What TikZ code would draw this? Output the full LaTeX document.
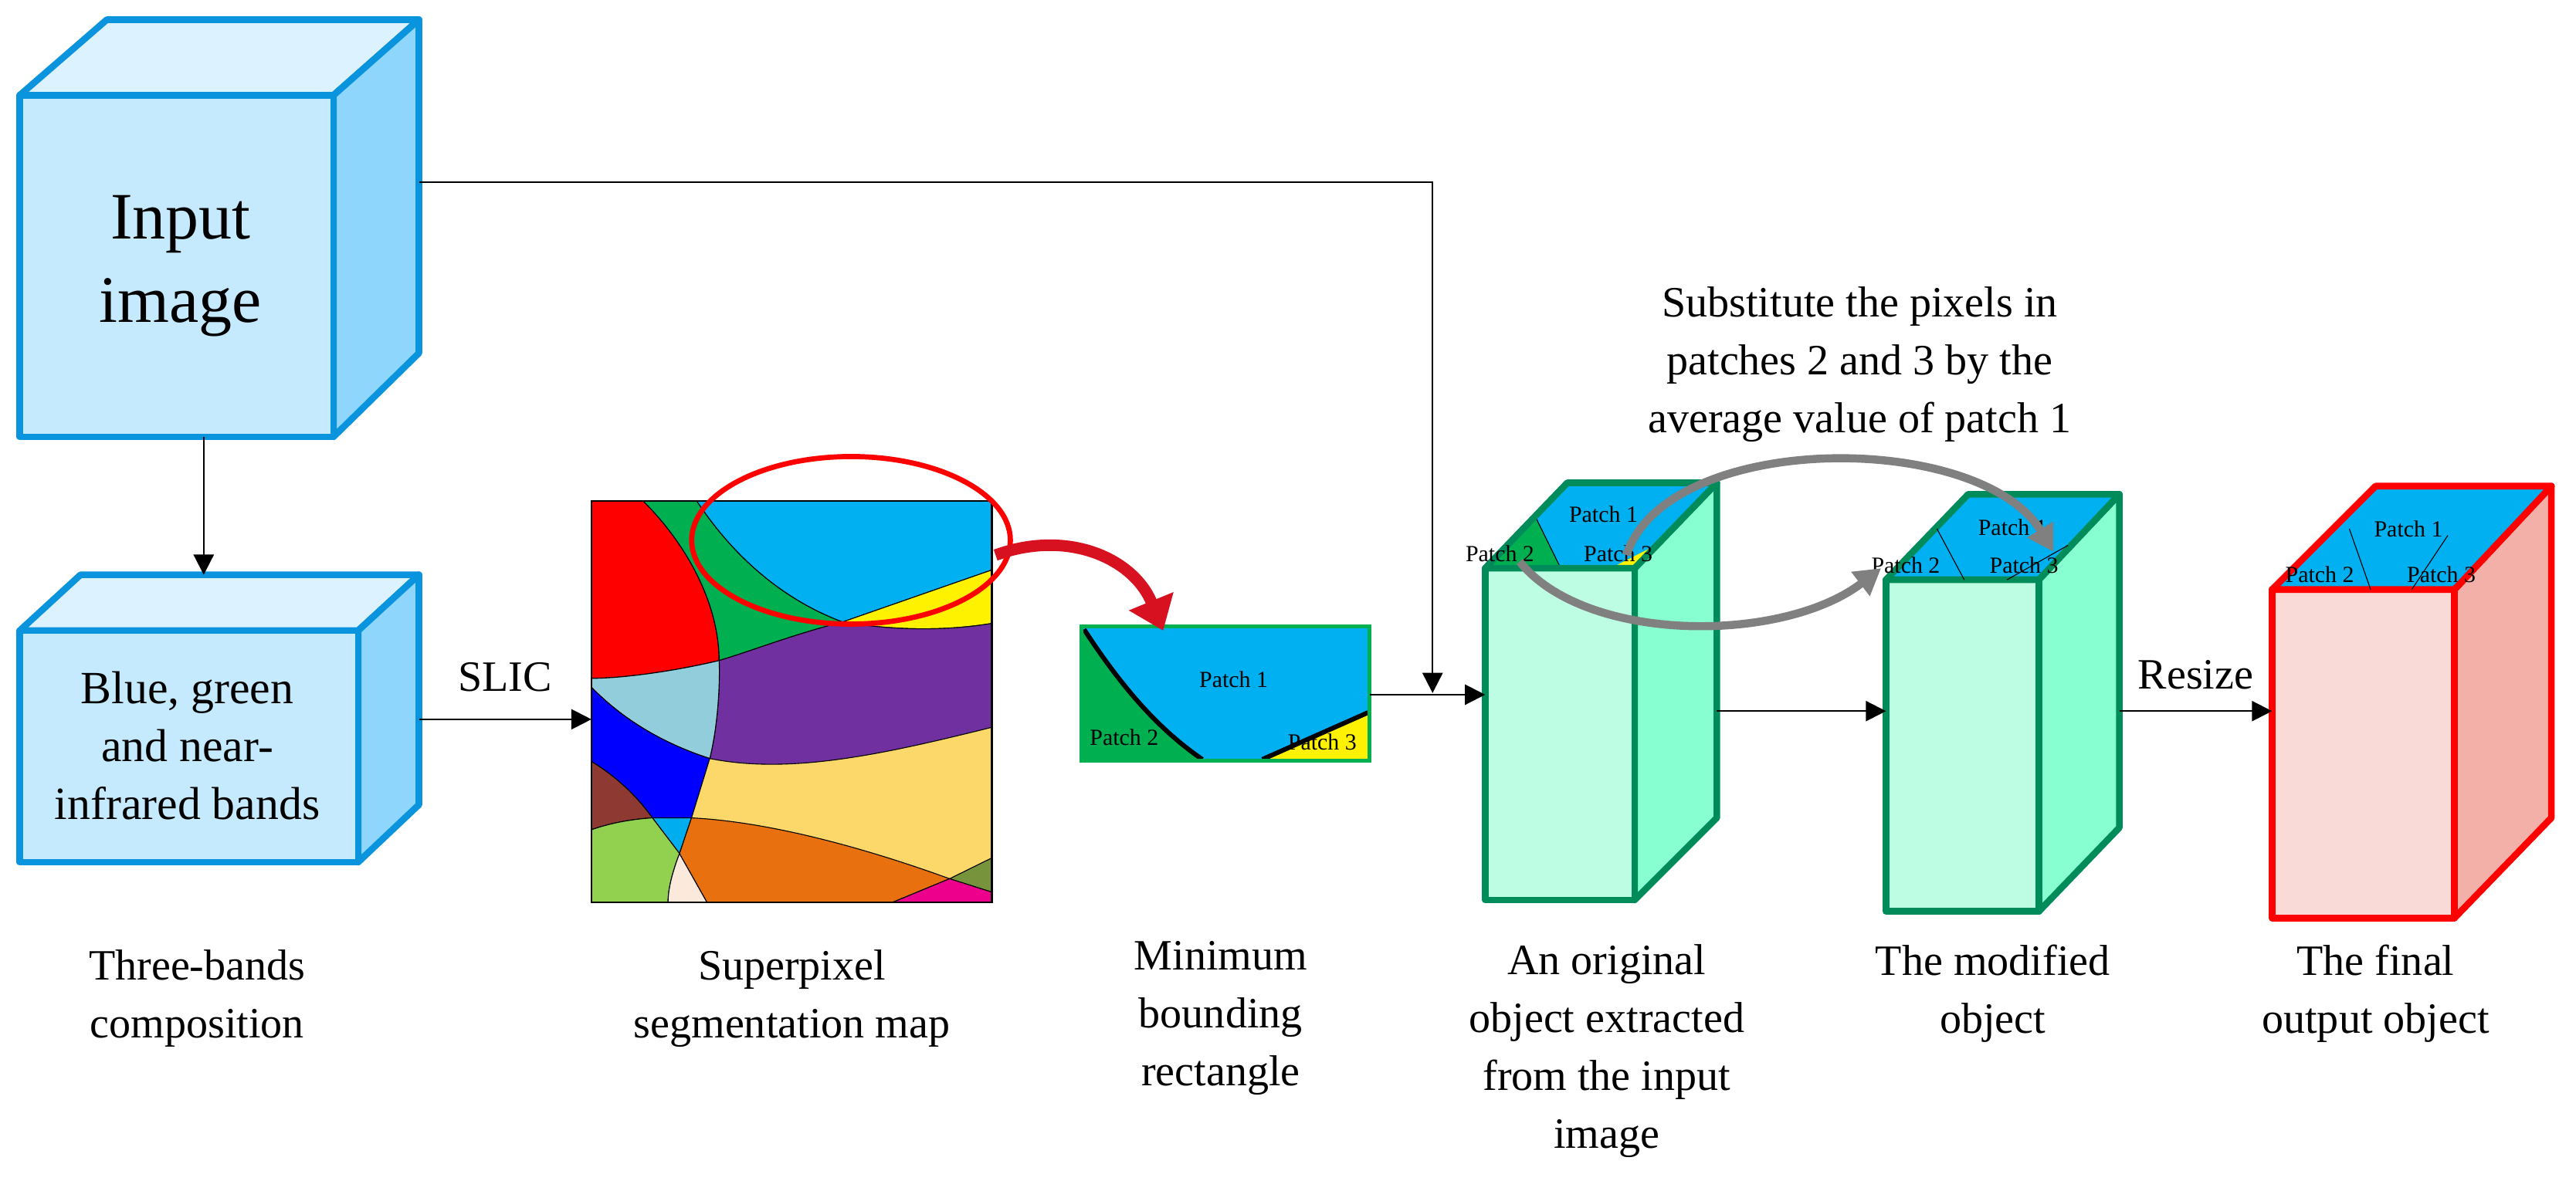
\documentclass[tikz,border=0pt]{standalone}
\usepackage{fontspec}
\setmainfont{Liberation Serif}
\usetikzlibrary{arrows.meta}
\definecolor{cbF}{HTML}{C5E9FD}\definecolor{cbR}{HTML}{8ED6FB}\definecolor{cbT}{HTML}{DCF2FE}\definecolor{cbL}{HTML}{0A94DE}
\definecolor{cgF}{HTML}{BDFDE3}\definecolor{cgR}{HTML}{88FFD0}\definecolor{cgL}{HTML}{008C5A}
\definecolor{crF}{HTML}{F9DAD6}\definecolor{crR}{HTML}{F3B0A8}
\definecolor{sky}{HTML}{00B0F0}\definecolor{pgreen}{HTML}{00B050}\definecolor{purp}{HTML}{7030A0}
\definecolor{lblue}{HTML}{92CDDC}\definecolor{brown2}{HTML}{8E3A32}\definecolor{lgreen}{HTML}{92D050}
\definecolor{linen2}{HTML}{FBE9DC}\definecolor{orng}{HTML}{E8700E}\definecolor{tan2}{HTML}{FCD86A}
\definecolor{olive2}{HTML}{77933C}\definecolor{redarr}{HTML}{D7111F}
\tikzset{
  conn/.style={line width=0.6pt,-{Triangle[length=7pt,width=7pt]}},
  plain/.style={line width=0.6pt},
  reg/.style={draw=black,line width=0.3pt},
  lbl/.style={font=\fontsize{15}{20}\selectfont,align=center},
  plbl/.style={font=\fontsize{8}{9}\selectfont,inner sep=0pt},
  cubeB/.style={draw=cbL,line width=2.3pt,line join=round},
  cubeG/.style={draw=cgL,line width=2.3pt,line join=round},
  cubeR/.style={draw=red,line width=2.3pt,line join=round},
  garr/.style={draw=gray,line width=2.8pt,-{Triangle[length=9pt,width=10pt]}},
}
\begin{document}
\begin{tikzpicture}[x=0.02cm,y=-0.02cm]
\useasboundingbox (0,0) rectangle (1568,718.7);
% Input cube
\filldraw[cubeB,fill=cbT] (12,58)--(65,12)--(255,12)--(203,58)--cycle;
\filldraw[cubeB,fill=cbR] (203,58)--(255,12)--(255,215)--(203,266)--cycle;
\filldraw[cubeB,fill=cbF] (12,58) rectangle (203,266);
\node[font=\fontsize{23}{29}\selectfont,align=center] (inp) at (110,162) {Input\\image};
\coordinate (inpR) at (255,111);
\coordinate (inpB) at (124,266);
% Bands cube
\filldraw[cubeB,fill=cbT] (12,384)--(49,350)--(255,350)--(218,384)--cycle;
\filldraw[cubeB,fill=cbR] (218,384)--(255,350)--(255,490)--(218,525)--cycle;
\filldraw[cubeB,fill=cbF] (12,384) rectangle (218,525);
\node[font=\fontsize{16}{20}\selectfont,align=center] (bands) at (114,454) {Blue, green\\and near-\\infrared bands};
\coordinate (bandsT) at (124,350);
\coordinate (bandsR) at (255,438);
\draw[conn] (inpB) -- (bandsT);
% Segmentation map
\coordinate (segL) at (360,438);
\draw[conn] (bandsR) -- (segL) node[midway,above=6pt,font=\fontsize{15}{18}\selectfont] {SLIC};
\begin{scope}[shift={(347.93,280.19)}]
\begin{scope}[x=0.006354cm,y=-0.003622cm]
\fill[tan2] (38,137) rectangle (806,1490);
\filldraw[reg,fill=red] (38,137) -- (137,137) .. controls (230,300) and (283,500) .. (283,675) .. controls (200,710) and (100,735) .. (38,735) -- cycle;
\filldraw[reg,fill=pgreen] (137,137) -- (240,137) .. controls (320,350) and (420,480) .. (520,545) .. controls (420,590) and (350,640) .. (283,675) .. controls (283,500) and (230,300) .. (137,137) -- cycle;
\filldraw[reg,fill=sky] (240,137) -- (806,137) -- (806,370) -- (520,545) .. controls (420,480) and (320,350) .. (240,137) -- cycle;
\filldraw[reg,fill=yellow] (520,545) -- (806,370) -- (806,550) .. controls (720,575) and (620,575) .. (520,545) -- cycle;
\filldraw[reg,fill=purp] (283,675) .. controls (350,640) and (420,590) .. (520,545) .. controls (620,575) and (720,575) .. (806,550) -- (806,900) .. controls (600,990) and (420,1060) .. (265,1005) .. controls (280,900) and (285,760) .. (283,675) -- cycle;
\filldraw[reg,fill=lblue] (38,735) .. controls (100,735) and (200,710) .. (283,675) .. controls (285,760) and (280,900) .. (265,1005) .. controls (150,940) and (80,840) .. (38,765) -- cycle;
\filldraw[reg,fill=blue] (38,765) .. controls (80,840) and (150,940) .. (265,1005) -- (230,1205) -- (155,1205) .. controls (120,1120) and (80,1060) .. (38,1015) -- cycle;
\filldraw[reg,fill=brown2] (38,1015) .. controls (80,1060) and (120,1120) .. (155,1205) .. controls (110,1210) and (70,1225) .. (38,1245) -- cycle;
\filldraw[reg,fill=cyan] (155,1205) -- (230,1205) -- (207,1325) -- cycle;
\filldraw[reg,fill=lgreen] (38,1245) .. controls (70,1225) and (110,1210) .. (155,1205) -- (207,1325) .. controls (195,1380) and (185,1440) .. (185,1490) -- (38,1490) -- cycle;
\filldraw[reg,fill=linen2] (207,1325) -- (260,1490) -- (185,1490) .. controls (185,1440) and (195,1380) .. (207,1325) -- cycle;
\filldraw[reg,fill=orng] (230,1205) .. controls (400,1220) and (600,1330) .. (725,1410) -- (615,1490) -- (260,1490) -- (207,1325) -- cycle;
\filldraw[reg,fill=olive2] (725,1410) -- (806,1340) -- (806,1455) -- cycle;
\filldraw[reg,fill=magenta] (725,1410) -- (806,1455) -- (806,1490) -- (615,1490) -- cycle;
\draw[line width=0.6pt] (38,137) rectangle (806,1490);
% MBR
\fill[sky] (978,560) rectangle (1530,1012);
\fill[pgreen] (983,570) .. controls (1050,750) and (1120,900) .. (1210,1008) -- (978,1008) -- (978,570) -- cycle;
\fill[yellow] (1325,1008) -- (1528,850) -- (1528,1008) -- cycle;
\draw[line width=1.6pt] (983,570) .. controls (1050,750) and (1120,900) .. (1210,1008);
\draw[line width=1.6pt] (1325,1008) -- (1528,850);
\draw[pgreen,line width=1.4pt] (978,560) rectangle (1530,1012);
\node[plbl] (p1) at (1270,740) {Patch 1};
\node[plbl] (p2) at (1060,935) {Patch 2};
\node[plbl] (p3) at (1440,950) {Patch 3};
\end{scope}
\end{scope}
\draw[red,line width=1.8pt] (518,329) ellipse [x radius=97,y radius=51];
\draw[redarr,line width=4pt,-{Triangle[length=11pt,width=16pt]}] (606,338) .. controls (650,322) and (690,340) .. (708,384);
\coordinate (mbrR) at (834,423);
% Original object
\filldraw[cubeG,fill=cgR] (995,346)--(1045,294)--(1045,498)--(995,548)--cycle;
\filldraw[cubeG,fill=cgF] (904,346) rectangle (995,548);
\fill[sky] (904,346)--(954,294)--(1045,294)--(995,346)--cycle;
\fill[pgreen] (904,346)--(934.7,314.9)--(950,346)--cycle;
\fill[yellow] (980.4,346)--(994.7,346)--(1007.8,332.1)--cycle;
\draw[line width=0.3pt] (934.7,314.9)--(950,346);
\draw[line width=0.6pt] (954,294)--(1045,294);
\draw[cubeG,fill=none] (904,346)--(954,294)--(1045,294)--(995,346)--cycle;
\node[plbl] at (976,313) {Patch 1};
\node[plbl] at (913,337) {Patch 2};
\node[plbl] at (985,337) {Patch 3};
% Modified object
\filldraw[cubeG,fill=cgR] (1241,353)--(1290,301)--(1290,504)--(1241,555)--cycle;
\filldraw[cubeG,fill=cgF] (1148,353) rectangle (1241,555);
\filldraw[cubeG,fill=sky] (1148,353)--(1198,301)--(1290,301)--(1241,353)--cycle;
\draw[line width=0.3pt] (1179,322)--(1195.6,353) (1221.7,353)--(1258.7,332.1);
\node[plbl] at (1225,321) {Patch 1};
\node[plbl] at (1160,344) {Patch 2};
\node[plbl] at (1232,344) {Patch 3};
% Final object
\filldraw[cubeR,fill=crR] (1494,359)--(1553,296)--(1553,498)--(1494,559)--cycle;
\filldraw[cubeR,fill=crF] (1383,359) rectangle (1494,559);
\filldraw[cubeR,fill=sky] (1383,359)--(1446,296)--(1553,296)--(1494,359)--cycle;
\draw[line width=0.3pt] (1430,322)--(1443,359) (1490,326)--(1468,359);
\node[plbl] at (1466,322) {Patch 1};
\node[plbl] at (1412,350) {Patch 2};
\node[plbl] at (1486,350) {Patch 3};
% connectors
\coordinate (turn) at (872,111);
\coordinate (origT) at (872,422);
\coordinate (origL) at (904,423);
\draw[conn] (inpR) -- (turn) -- (origT);
\draw[conn] (mbrR) -- (origL);
\coordinate (origR) at (1045,433);
\coordinate (modL) at (1148,433);
\draw[conn] (origR) -- (modL);
\coordinate (modR) at (1290,433);
\coordinate (finL) at (1383,433);
\draw[conn] (modR) -- (finL) node[midway,above=4pt,font=\fontsize{15}{18}\selectfont] {Resize};
% gray arrows
\draw[garr] (990,338) .. controls (1015,262) and (1205,262) .. (1250,336);
\draw[garr] (925,342) .. controls (965,392) and (1085,392) .. (1145,346);
% labels
\node[lbl] at (1132,222) {Substitute the pixels in\\patches 2 and 3 by the\\average value of patch 1};
\node[lbl] at (120,608) {Three-bands\\composition};
\node[lbl] at (482,608) {Superpixel\\segmentation map};
\node[lbl] at (743,620) {Minimum\\bounding\\rectangle};
\node[lbl] at (978,640) {An original\\object extracted\\from the input\\image};
\node[lbl] at (1213,605) {The modified\\object};
\node[lbl] at (1446,605) {The final\\output object};
\end{tikzpicture}
\end{document}
